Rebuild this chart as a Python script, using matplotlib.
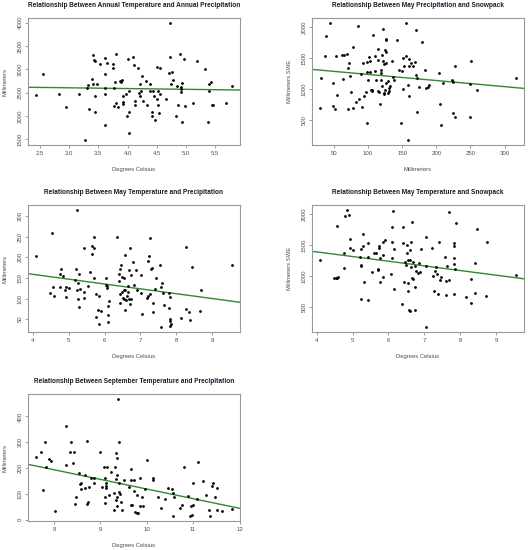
import matplotlib
matplotlib.use('Agg')
import matplotlib.pyplot as plt
import numpy as np

plt.rcParams['font.family'] = ['Liberation Sans', 'DejaVu Sans']

# annual temperature vs annual precipitation
ann_temp = [2.43, 2.56, 2.82, 2.95, 3.17, 3.27, 3.30, 3.32, 3.34, 3.39, 3.41, 3.42, 3.44, 3.41, 3.44,
            3.45, 3.48, 3.52, 3.62, 3.61, 3.62, 3.62, 3.62, 3.65, 3.75, 3.75, 3.77, 3.79, 3.81, 3.81,
            3.77, 3.84, 3.87, 3.89, 3.91, 3.92, 3.92, 3.93, 3.97, 3.99, 4.01, 4.02, 4.02, 4.02, 4.09,
            4.11, 4.12, 4.12, 4.17, 4.19, 4.22, 4.23, 4.22, 4.25, 4.27, 4.31, 4.34, 4.38, 4.38, 4.42,
            4.42, 4.43, 4.45, 4.47, 4.50, 4.50, 4.52, 4.52, 4.54, 4.56, 4.56, 4.65, 4.71, 4.73, 4.73,
            4.76, 4.75, 4.78, 4.83, 4.85, 4.86, 4.90, 4.91, 4.92, 4.92, 4.93, 4.94, 4.97, 4.98, 5.12,
            5.18, 5.39, 5.39, 5.33, 5.38, 5.43, 5.45, 5.47, 5.69, 5.79]
ann_prec = [2454, 2907, 2475, 2187, 2482, 1482, 2604, 2670, 2144, 2785, 3317, 3209, 3173, 2684, 2432,
            2080, 2698, 3108, 3252, 2900, 2605, 2468, 1820, 3130, 3123, 3030, 2598, 2727, 3331, 2288,
            2210, 2202, 2749, 2734, 2778, 2432, 2310, 2253, 2475, 2007, 3223, 2094, 2547, 1641, 3259,
            3094, 2331, 2231, 3022, 2490, 2432, 2540, 2684, 2864, 2317, 2756, 2231, 2684, 2540, 2080,
            1994, 2540, 2432, 1921, 3051, 2360, 2533, 2238, 2072, 2468, 3022, 2367, 2921, 4000, 3266,
            2943, 2684, 2770, 1994, 2648, 2245, 3338, 2583, 2619, 2526, 1864, 2706, 3230, 2224, 2281,
            3173, 2698, 2547, 3000, 1879, 2741, 2231, 2238, 2281, 2641]

# may precipitation vs snowpack
may_prec = [29.5, 31.4, 36.8, 37.8, 44.1, 48.5, 49, 52, 53.4, 54.4, 61.7, 62.7, 65.6, 69.5, 70, 70, 72,
            73.4, 74.4, 77.8, 77.8, 82.7, 85.6, 86.6, 90, 91, 93.4, 94, 96.4, 97.9, 98.8, 98.8, 100.3,
            101.8, 102.3, 102.8, 104.7, 105.7, 106.6, 107.1, 110, 110.6, 112, 114.5, 114.5, 114.5,
            116.4, 117.4, 118.4, 118.4, 119.3, 120.3, 120.8, 121.3, 122.3, 122.8, 123.7, 123.7, 124.7,
            125.6, 126.2, 126.7, 127.1, 127.1, 127.1, 129, 130, 130.5, 131.5, 132, 135.9, 136.3, 138.4,
            142.3, 145.7, 148.1, 149.6, 152, 152, 153, 155, 156, 158, 159, 159.4, 160.4, 160.4, 163,
            165.4, 168.8, 169.8, 171, 171.6, 172, 174, 178.9, 182.8, 184.3, 187.2, 189.6, 203.3, 205.3,
            206.7, 209.7, 223.3, 224.3, 223.8, 227.7, 227.7, 249.7, 251.2, 249.7, 260, 317]
may_swe = [695, 1185, 1536, 1849, 2059, 1105, 727, 673, 1531, 905, 1547, 1159, 1547, 1574, 1347, 673,
           1428, 1207, 948, 1671, 700, 792, 2022, 835, 1239, 706, 1428, 889, 948, 1272, 1439, 457, 1153,
           1515, 1272, 1455, 991, 964, 986, 1865, 1299, 1531, 1153, 975, 1639, 1471, 954, 754, 1315,
           1256, 1148, 1558, 1051, 1973, 1450, 932, 916, 1407, 1633, 991, 1094, 1423, 1596, 1795, 1811,
           937, 1126, 970, 1018, 1045, 1450, 1202, 1153, 1795, 1315, 452, 1288, 1498, 997, 1369, 2070,
           1542, 1067, 177, 894, 1374, 1482, 1428, 1374, 1434, 1234, 1957, 1180, 625, 1040, 1763, 1304,
           1013, 1040, 1072, 1256, 765, 425, 1094, 1153, 1121, 614, 554, 1369, 1083, 1461, 554, 986, 1175]

# may temperature vs precipitation
mt_temp = [4.09, 4.53, 4.49, 4.56, 4.59, 4.76, 4.76, 4.80, 4.85, 4.91, 4.93, 4.94, 5.01, 5.19, 5.22,
           5.23, 5.24, 5.26, 5.27, 5.28, 5.28, 5.32, 5.42, 5.43, 5.44, 5.53, 5.59, 5.66, 5.66, 5.70,
           5.72, 5.72, 5.75, 5.76, 5.82, 5.84, 5.84, 5.89, 6.05, 6.04, 6.06, 6.08, 6.10, 6.11, 6.11,
           6.13, 6.35, 6.39, 6.40, 6.42, 6.43, 6.44, 6.45, 6.48, 6.49, 6.51, 6.53, 6.55, 6.55, 6.56,
           6.57, 6.58, 6.60, 6.62, 6.64, 6.65, 6.68, 6.69, 6.71, 6.72, 6.74, 6.74, 6.80, 6.83, 6.88,
           6.90, 7.02, 7.02, 7.03, 7.17, 7.20, 7.22, 7.24, 7.26, 7.26, 7.30, 7.33, 7.36, 7.36, 7.40,
           7.44, 7.53, 7.57, 7.57, 7.61, 7.63, 7.66, 7.79, 7.80, 7.81, 7.82, 7.82, 7.82, 7.84, 8.14,
           8.26, 8.27, 8.36, 8.38, 8.43, 8.68, 8.66, 9.55]
mt_prec = [203, 259, 114, 127, 105, 127, 159, 171, 154, 121, 104, 127, 126, 145, 173, 316, 121, 137,
           99, 159, 79, 123, 222, 117, 101, 130, 164, 227, 209, 224, 250, 150, 110, 54, 71, 107, 37, 70,
           149, 132, 130, 125, 61, 83, 43, 93, 249, 159, 142, 110, 90, 172, 181, 153, 115, 101, 99, 149,
           120, 72, 206, 120, 96, 106, 115, 130, 169, 98, 86, 222, 157, 99, 188, 134, 169, 120, 157,
           113, 62, 101, 106, 191, 204, 112, 248, 173, 175, 66, 90, 122, 151, 182, 127, 30, 137, 114,
           84, 78, 114, 103, 50, 45, 32, 38, 52, 74, 226, 68, 48, 177, 120, 70, 182]

# may temperature vs snowpack
ms_temp = [4.09, 4.49, 4.54, 4.57, 4.58, 4.59, 4.76, 4.76, 4.80, 4.84, 4.91, 4.93, 4.94, 5.01, 5.21,
           5.24, 5.24, 5.25, 5.25, 5.28, 5.28, 5.33, 5.43, 5.43, 5.43, 5.53, 5.61, 5.65, 5.71, 5.71,
           5.73, 5.74, 5.76, 5.76, 5.85, 5.85, 5.85, 5.90, 6.07, 6.10, 6.11, 6.11, 6.13, 6.15, 6.16,
           6.38, 6.42, 6.42, 6.43, 6.46, 6.48, 6.51, 6.51, 6.54, 6.54, 6.56, 6.57, 6.59, 6.61, 6.61,
           6.62, 6.62, 6.65, 6.67, 6.68, 6.69, 6.73, 6.74, 6.75, 6.77, 6.82, 6.86, 6.88, 6.90, 7.04,
           7.06, 7.06, 7.22, 7.23, 7.27, 7.29, 7.32, 7.36, 7.38, 7.40, 7.44, 7.47, 7.58, 7.60, 7.61,
           7.64, 7.69, 7.70, 7.83, 7.83, 7.83, 7.84, 7.84, 7.85, 7.88, 8.16, 8.29, 8.29, 8.40, 8.42,
           8.47, 8.72, 8.76, 9.56]
ms_swe = [1261, 964, 975, 1817, 964, 991, 1126, 1374, 1968, 2076, 1984, 1606, 1461, 1417, 1315, 1180,
          624, 1158, 1444, 1488, 1682, 900, 1315, 1531, 614, 1072, 1374, 1374, 1099, 1121, 1482, 1450,
          905, 1299, 991, 1347, 1547, 1585, 1029, 1293, 1795, 1558, 2059, 1434, 792, 549, 1531, 1800,
          905, 1234, 1185, 1498, 1374, 754, 889, 1266, 457, 436, 1428, 1261, 1547, 1142, 1871, 975,
          954, 1234, 452, 830, 1158, 1078, 1056, 1207, 1067, 1444, 1628, 1164, 171, 1450, 1002, 765,
          1083, 1148, 1040, 706, 1552, 943, 981, 1304, 927, 695, 1164, 943, 2032, 706, 1542, 1488, 1288,
          1196, 1110, 1854, 668, 948, 560, 1218, 727, 1768, 673, 1558, 1013]

# september temperature vs precipitation
sep_temp = [7.61, 7.73, 7.76, 7.80, 7.83, 7.90, 7.93, 8.03, 8.25, 8.27, 8.37, 8.35, 8.43, 8.42, 8.45,
            8.47, 8.54, 8.57, 8.59, 8.58, 8.66, 8.67, 8.71, 8.72, 8.74, 8.75, 8.80, 8.87, 8.87, 8.99,
            9.04, 9.08, 9.09, 9.10, 9.10, 9.12, 9.13, 9.13, 9.15, 9.18, 9.22, 9.29, 9.30, 9.32, 9.33,
            9.34, 9.34, 9.35, 9.36, 9.35, 9.36, 9.39, 9.40, 9.40, 9.41, 9.43, 9.45, 9.46, 9.51, 9.61,
            9.66, 9.66, 9.67, 9.69, 9.73, 9.73, 9.74, 9.78, 9.79, 9.82, 9.86, 9.86, 9.89, 9.92, 9.97,
            10.0, 10.13, 10.14, 10.24, 10.31, 10.40, 10.46, 10.55, 10.56, 10.57, 10.59, 10.72, 10.75,
            10.80, 10.89, 10.93, 10.95, 10.97, 11.0, 11.0, 11.08, 11.10, 11.21, 11.28, 11.34, 11.36,
            11.40, 11.43, 11.48, 11.51, 11.51, 11.63, 11.84]
sep_prec = [244, 261, 116, 300, 204, 234, 226, 35, 210, 364, 300, 261, 261, 218, 62, 88, 179, 140, 142,
            119, 122, 173, 304, 61, 70, 126, 160, 160, 143, 262, 125, 204, 160, 66, 88, 143, 132, 121,
            203, 95, 183, 105, 38, 205, 258, 156, 75, 51, 238, 88, 173, 469, 303, 142, 109, 99, 68, 38,
            152, 127, 197, 155, 57, 57, 153, 110, 31, 25, 96, 27, 160, 51, 86, 53, 119, 232, 152, 160,
            88, 47, 79, 122, 117, 103, 16, 88, 47, 57, 203, 92, 13, 53, 18, 57, 143, 82, 223, 151, 95,
            36, 14, 132, 142, 88, 123, 36, 35, 43]

W, H = 528, 550
fig = plt.figure(figsize=(W / 100, H / 100), dpi=100, facecolor='white')

panels = [
    (ann_temp, ann_prec, 'Relationship Between Annual Temperature and Annual Precipitation',
     'Degrees Celsius', 'Millimeters', [2.5, 3.0, 3.5, 4.0, 4.5, 5.0, 5.5],
     [1500, 2000, 2500, 3000, 3500, 4000], '%.1f', (28, 18)),
    (may_prec, may_swe, 'Relationship Between May Precipitation and Snowpack',
     'Millimeters', 'Millimeters SWE', [50, 100, 150, 200, 250, 300],
     [500, 1000, 1500, 2000], '%d', (312, 18)),
    (mt_temp, mt_prec, 'Relationship Between May Temperature and Precipitation',
     'Degrees Celsius', 'Millimeters', [4, 5, 6, 7, 8, 9],
     [50, 100, 150, 200, 250, 300], '%d', (28, 205)),
    (ms_temp, ms_swe, 'Relationship Between May Temperature and Snowpack',
     'Degrees Celsius', 'Millimeters SWE', [4, 5, 6, 7, 8, 9],
     [500, 1000, 1500, 2000], '%d', (312, 205)),
    (sep_temp, sep_prec, 'Relationship Between September Temperature and Precipitation',
     'Degrees Celsius', 'Millimeters', [8, 9, 10, 11, 12],
     [0, 100, 200, 300, 400], '%d', (28, 394)),
]

grey = '#4d4d4d'
for xs, ys, title, xlab, ylab, xt, yt, fmt, (left, top) in panels:
    ax = fig.add_axes([left / W, 1 - (top + 127) / H, 212 / W, 127 / H])
    xs = np.array(xs)
    ys = np.array(ys)
    ax.scatter(xs, ys, s=4, color='black', zorder=3, linewidths=0)
    ax.margins(0.04)
    xlim = ax.get_xlim()
    ylim = ax.get_ylim()
    # least squares line like abline(lm(y ~ x))
    b, a = np.polyfit(xs, ys, 1)
    lx = np.array(xlim)
    ax.plot(lx, a + b * lx, color='#2e8b2e', lw=1.0, zorder=2)
    ax.set_xlim(xlim)
    ax.set_ylim(ylim)
    ax.set_xticks(xt)
    ax.set_xticklabels([fmt % v for v in xt])
    ax.set_yticks(yt)
    ax.set_yticklabels(['%d' % v for v in yt], rotation=90, va='center')
    ax.tick_params(length=2.5, width=0.5, color='#777777', labelsize=4.3, labelcolor=grey, pad=1.5)
    for s in ax.spines.values():
        s.set_color('#999999')
        s.set_linewidth(0.8)
    ax.set_xlabel(xlab, fontsize=4.2, color=grey)
    ax.set_ylabel(ylab, fontsize=4.2, color=grey)
    ax.xaxis.set_label_coords(0.5, -0.17)
    ax.yaxis.set_label_coords(-0.095, 0.5)
    ax.annotate(title, xy=(0.5, 1), xycoords='axes fraction', xytext=(0, 9),
                textcoords='offset points', ha='center', va='center',
                fontsize=4.7, fontweight='bold', color='#1a1a2a')

fig.savefig('out.png', dpi=100, facecolor='white')
